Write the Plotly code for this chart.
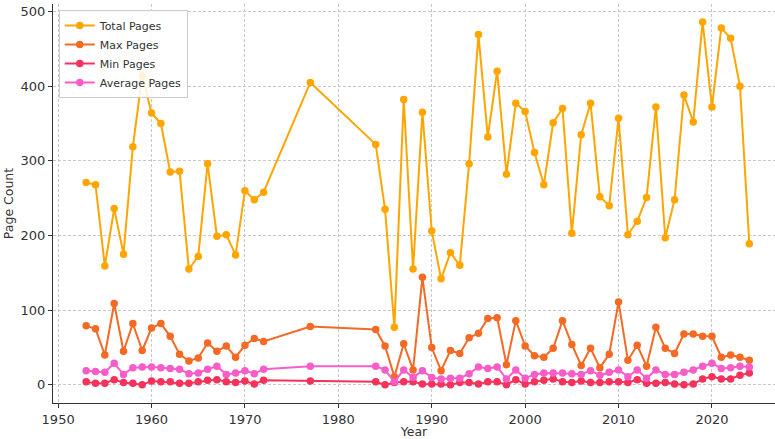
import plotly.graph_objects as go

years = list(range(1953, 1973)) + [1977] + list(range(1984, 2025))

total_pages = [271, 268, 159, 236, 175, 319, 414, 364, 350, 285, 286, 155, 172, 296, 199, 201, 174, 260, 248, 258,
               405,
               322, 235, 77, 382, 155, 365, 206, 142, 177, 160,
               296, 469, 332, 420, 282, 377, 366, 311, 268, 351,
               370, 203, 335, 377, 252, 240, 357, 201, 219, 251,
               372, 197, 248, 388, 352, 486, 372, 478, 464, 400,
               189]

max_pages = [79, 75, 40, 109, 45, 82, 46, 76, 82, 65, 41, 32, 36, 56, 45, 52, 37, 53, 62, 58,
             78,
             74, 52, 11, 55, 20, 144, 50, 19, 46, 42,
             63, 69, 89, 90, 27, 86, 52, 39, 37, 49,
             86, 54, 26, 49, 23, 41, 111, 33, 53, 25,
             77, 49, 42, 68, 68, 65, 65, 37, 40, 37,
             33]

min_pages = [4, 2, 2, 7, 3, 2, 0, 5, 4, 4, 2, 2, 4, 6, 7, 4, 3, 5, 1, 6,
             5,
             4, 0, 3, 4, 4, 1, 1, 1, 0, 3,
             3, 1, 4, 4, 0, 7, 1, 4, 6, 8,
             4, 3, 5, 3, 3, 4, 4, 3, 7, 2,
             2, 3, 1, 0, 1, 8, 11, 8, 8, 13,
             16]

avg_pages = [19, 18, 17, 29, 14, 23, 24, 24, 23, 22, 21, 15, 16, 21, 25, 14, 16, 19, 15, 21,
             25,
             25, 20, 4, 20, 10, 19, 10, 8, 9, 9,
             15, 24, 22, 24, 8, 20, 9, 14, 16, 16,
             16, 15, 14, 19, 13, 17, 20, 11, 20, 9,
             20, 14, 14, 17, 20, 25, 29, 22, 23, 25,
             24]

series = [
    ("Total Pages", total_pages, "#FFA500"),
    ("Max Pages", max_pages, "#F46A25"),
    ("Min Pages", min_pages, "#F5325B"),
    ("Average Pages", avg_pages, "#F75DC9"),
]

fig = go.Figure()
for name, vals, color in series:
    fig.add_trace(go.Scatter(
        x=years, y=vals, name=name, mode="lines+markers",
        line=dict(color=color, width=2),
        marker=dict(color=color, size=7.5),
    ))

font_family = "DejaVu Sans"
fig.update_layout(
    width=775, height=439,
    margin=dict(l=53, r=0, t=4, b=36),
    paper_bgcolor="white", plot_bgcolor="white",
    font=dict(family=font_family, size=13, color="#333333"),
    showlegend=True,
    legend=dict(
        x=0.008, y=0.985, xanchor="left", yanchor="top",
        bgcolor="rgba(255,255,255,0.85)", bordercolor="#cccccc", borderwidth=1,
        font=dict(family=font_family, size=11, color="#333333"),
        tracegroupgap=0, itemwidth=30,
    ),
)

fig.update_xaxes(
    range=[1949.45, 2026.75], automargin=False,
    tickmode="array", tickvals=[1950, 1960, 1970, 1980, 1990, 2000, 2010, 2020],
    showgrid=True, gridcolor="#c8c8c8", gridwidth=0.8, griddash="3px,2px",
    zeroline=False,
    showline=True, linecolor="#333333", linewidth=1.2,
    ticks="outside", ticklen=4, tickcolor="#333333",
    title=dict(text="Year", font=dict(size=12.5, color="#333333"), standoff=4),
)
fig.update_yaxes(
    range=[-24.3, 510], automargin=False,
    tickmode="array", tickvals=[0, 100, 200, 300, 400, 500],
    showgrid=True, gridcolor="#c8c8c8", gridwidth=0.8, griddash="3px,2px",
    zeroline=False,
    showline=True, linecolor="#333333", linewidth=1.2,
    ticks="outside", ticklen=4, tickcolor="#333333",
    title=dict(text="Page Count", font=dict(size=12.5, color="#333333"), standoff=4),
)

fig.write_html(
    "out.html",
    config={"displayModeBar": False},
    post_script="document.body.style.margin='0';document.body.style.overflow='hidden';",
)
